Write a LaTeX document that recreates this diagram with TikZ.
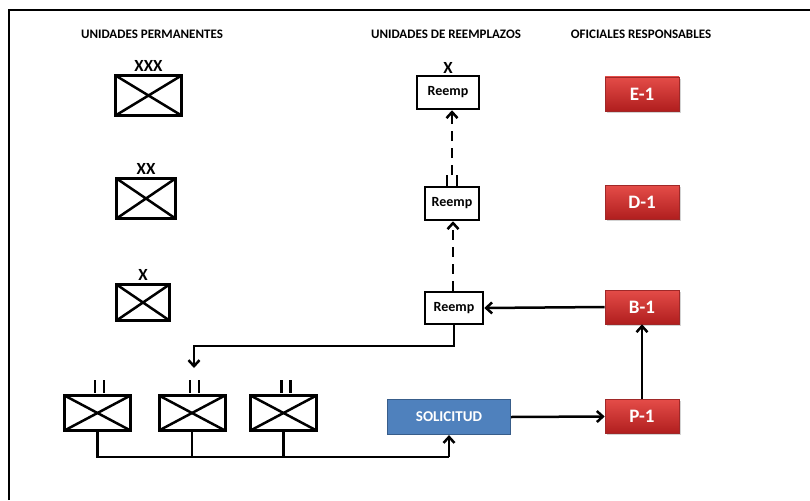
\documentclass[tikz,border=0pt]{standalone}
\usepackage{fontspec}
\setmainfont{Carlito}
\usetikzlibrary{arrows.meta,shadows}

\definecolor{solfill}{RGB}{79,129,189}
\definecolor{soledge}{RGB}{56,93,138}
\definecolor{redtop}{RGB}{228,76,72}
\definecolor{redbot}{RGB}{176,30,30}
\definecolor{rededge}{RGB}{160,40,40}

\begin{document}
\begin{tikzpicture}[x=1pt,y=-1pt,
  tip/.style={-{Straight Barb[length=6pt,width=11pt]}},
  link/.style={line width=2.5pt},
  dashlink/.style={line width=2.5pt,dash pattern=on 10pt off 7pt},
  header/.style={font=\bfseries\fontsize{13}{15}\selectfont},
  echelon/.style={font=\bfseries\fontsize{17}{19}\selectfont,inner sep=0pt},
  unitbox/.style={draw,line width=3pt,inner sep=0pt,
    path picture={\draw[line width=2.5pt]
      (path picture bounding box.north west) -- (path picture bounding box.south east)
      (path picture bounding box.south west) -- (path picture bounding box.north east);}},
  reempbox/.style={draw,line width=2.5pt,inner sep=0pt,
    font=\bfseries\fontsize{14}{16}\selectfont},
  officer/.style={minimum width=74pt,minimum height=34pt,inner sep=0pt,
    top color=redtop,bottom color=redbot,draw=rededge,line width=0.6pt,
    text=white,font=\bfseries\fontsize{19}{21}\selectfont,
    drop shadow={shadow xshift=1.5pt,shadow yshift=-1.8pt,opacity=0.35}},
  request/.style={minimum width=123pt,minimum height=35pt,inner sep=0pt,
    fill=solfill,draw=soledge,line width=1.2pt,
    text=white,font=\bfseries\fontsize{15}{17}\selectfont},
  bars/.style={line width=2.3pt}
]
\useasboundingbox (0,0) rectangle (810,500);

% frame lines along the top and left
\draw[line width=2.4pt] (9,500) -- (9,10) -- (810,10);

% column headings
\node[header] (hperm) at (152,34) {UNIDADES PERMANENTES};
\node[header] (hreem) at (446,34) {UNIDADES DE REEMPLAZOS};
\node[header] (hofic) at (641,34) {OFICIALES RESPONSABLES};

% permanent units
\node[unitbox,minimum width=66pt,minimum height=40pt] (pxxx) at (148.5,95.5) {};
\node[echelon,anchor=south] (lxxx) at ([yshift=2pt]pxxx.north) {XXX};
\node[unitbox,minimum width=59pt,minimum height=40pt] (pxx) at (146,198.5) {};
\node[echelon,anchor=south] (lxx) at ([yshift=2pt]pxx.north) {XX};
\node[unitbox,minimum width=53pt,minimum height=36pt] (px) at (143,302.5) {};
\node[echelon,anchor=south] (lx) at ([yshift=2pt]px.north) {X};

% battalions in the bottom row
\node[unitbox,minimum width=66pt,minimum height=35pt] (u1) at (97.5,413) {};
\node[unitbox,minimum width=66pt,minimum height=35pt] (u2) at (192,413) {};
\node[unitbox,minimum width=66pt,minimum height=35pt] (u3) at (283.5,413) {};
\foreach \u/\c in {u1/99.5,u2/194.5,u3/286}{
  \draw[bars] (\c-4.5,380) -- (\c-4.5,393) (\c+4.5,380) -- (\c+4.5,393);
}

% replacement units
\node[reempbox,minimum width=62pt,minimum height=33pt] (r1) at (448,92.5) {Reemp};
\node[echelon,anchor=south] (lr1) at ([yshift=1pt]r1.north) {X};
\node[reempbox,minimum width=54pt,minimum height=33pt] (r2) at (452,203.5) {Reemp};
\draw[bars] (447,175) -- (447,186) (457,175) -- (457,186);
\coordinate (r2mark) at (452,175);
\node[reempbox,minimum width=58pt,minimum height=32pt] (r3) at (454,308) {Reemp};

% responsible officers
\node[officer] (e1) at (642,94) {E-1};
\node[officer] (d1) at (642,202.5) {D-1};
\node[officer] (b1) at (642,307) {B-1};
\node[officer] (p1) at (642,416.5) {P-1};

% request
\node[request] (sol) at (449,417) {SOLICITUD};

% battalions report to the request
\coordinate (busL) at (u1.south |- 0,457);
\coordinate (busR) at (sol.south |- 0,457);
\draw[link] (u1.south) -- (busL) -- (busR);
\draw[link] (u2.south) -- (u2.south |- busL);
\draw[link] (u3.south) -- (u3.south |- busL);
\draw[link,tip] (busR) -- (sol.south);

% request to personnel, up to B-1, over to the replacement
\draw[link,tip] (sol.east) -- (p1.west);
\draw[link,tip] (p1.north) -- (b1.south);
\draw[link,tip] (b1.west) -- (r3.east);

% replacement delivered to the battalion
\coordinate (drop) at (194,368);
\draw[link,tip] (r3.south) -- (r3.south |- 0,346) -| (drop);

% replacements moving up the chain
\draw[dashlink,tip] (r3.north -| 453,0) -- (r2.south -| 453,0);
\draw[dashlink,tip] (r2mark) -- (r1.south -| r2mark);
\end{tikzpicture}
\end{document}
